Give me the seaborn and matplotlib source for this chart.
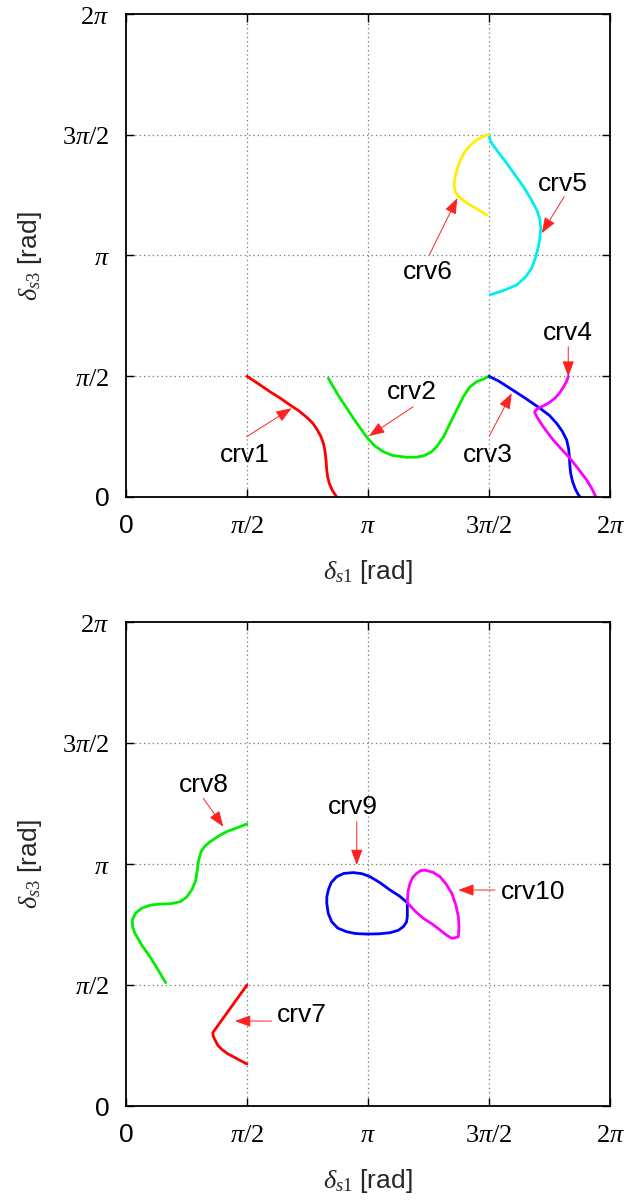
import numpy as np
import pandas as pd
import seaborn as sns
import matplotlib.pyplot as plt

# curve values in units of pi/2 (delta_s1, delta_s3)
crv1_x = [1.0, 1.09, 1.19, 1.28, 1.355, 1.43, 1.493, 1.545, 1.581, 1.611, 1.631, 1.643, 1.65,
          1.655, 1.659, 1.666, 1.68, 1.705, 1.741]
crv1_y = [1.0, 0.94, 0.872, 0.815, 0.762, 0.713, 0.66, 0.61, 0.555, 0.5, 0.445, 0.39, 0.334,
          0.28, 0.224, 0.17, 0.113, 0.055, 0.0]
crv2_x = [1.672, 1.72, 1.769, 1.825, 1.879, 1.94, 1.997, 2.06, 2.127, 2.2, 2.32, 2.4, 2.457,
          2.52, 2.568, 2.625, 2.678, 2.735, 2.788, 2.84, 2.898, 2.95, 3.0]
crv2_y = [0.983, 0.9, 0.818, 0.735, 0.652, 0.565, 0.486, 0.42, 0.375, 0.345, 0.329, 0.33, 0.34,
          0.37, 0.417, 0.5, 0.61, 0.725, 0.831, 0.91, 0.955, 0.975, 1.0]
crv3_x = [3.0, 3.08, 3.174, 3.3, 3.421, 3.5, 3.559, 3.605, 3.642, 3.658, 3.664, 3.668, 3.675,
          3.69, 3.711, 3.732, 3.752]
crv3_y = [1.0, 0.96, 0.9, 0.818, 0.735, 0.675, 0.61, 0.545, 0.472, 0.4, 0.334, 0.265, 0.196,
          0.13, 0.072, 0.03, 0.0]
crv4_x = [3.656, 3.64, 3.614, 3.582, 3.545, 3.5, 3.449, 3.41, 3.388, 3.378, 3.38, 3.41, 3.45,
          3.49, 3.531, 3.6, 3.669, 3.74, 3.807, 3.85, 3.884]
crv4_y = [1.0, 0.955, 0.909, 0.86, 0.818, 0.783, 0.754, 0.737, 0.721, 0.705, 0.693, 0.64, 0.58,
          0.525, 0.472, 0.395, 0.32, 0.23, 0.141, 0.07, 0.0]
crv5_x = [3.0, 3.005, 3.022, 3.08, 3.146, 3.215, 3.284, 3.345, 3.394, 3.418, 3.427, 3.422, 3.408,
          3.385, 3.353, 3.3, 3.229, 3.12, 3.008]
crv5_y = [3.0, 2.97, 2.93, 2.85, 2.765, 2.668, 2.571, 2.47, 2.378, 2.31, 2.239, 2.155, 2.074,
          1.985, 1.895, 1.82, 1.756, 1.71, 1.674]
crv6_x = [3.0, 2.95, 2.898, 2.848, 2.802, 2.765, 2.738, 2.72, 2.711, 2.72, 2.747, 2.79, 2.843,
          2.91, 2.981]
crv6_y = [3.0, 2.985, 2.958, 2.915, 2.861, 2.795, 2.723, 2.655, 2.585, 2.53, 2.488, 2.455, 2.419,
          2.38, 2.336]

crv7_x = [1.0, 0.832, 0.717, 0.722, 0.736, 0.76, 0.791, 0.835, 0.887, 0.94, 1.0]
crv7_y = [1.0, 0.766, 0.606, 0.575, 0.545, 0.5, 0.469, 0.435, 0.407, 0.378, 0.347]
crv8_x = [1.0, 0.92, 0.832, 0.76, 0.694, 0.65, 0.62, 0.6, 0.589, 0.575, 0.543, 0.5, 0.446, 0.37,
          0.281, 0.2, 0.13, 0.08, 0.052, 0.055, 0.074, 0.13, 0.198, 0.265, 0.328]
crv8_y = [2.331, 2.3, 2.267, 2.228, 2.184, 2.145, 2.102, 2.03, 1.95, 1.86, 1.785, 1.725, 1.688,
          1.672, 1.669, 1.66, 1.634, 1.595, 1.537, 1.48, 1.427, 1.33, 1.234, 1.125, 1.019]
crv9_x = [2.325, 2.26, 2.182, 2.1, 2.017, 1.95, 1.879, 1.8, 1.741, 1.695, 1.672, 1.66, 1.659,
          1.672, 1.7, 1.75, 1.824, 1.9, 1.989, 2.09, 2.182, 2.25, 2.292, 2.318, 2.325, 2.325, 2.325]
crv9_y = [1.68, 1.735, 1.785, 1.845, 1.895, 1.92, 1.929, 1.922, 1.895, 1.845, 1.785, 1.73, 1.675,
          1.59, 1.523, 1.47, 1.44, 1.425, 1.421, 1.423, 1.432, 1.452, 1.482, 1.52, 1.565, 1.62, 1.68]
crv10_x = [2.325, 2.33, 2.347, 2.37, 2.402, 2.435, 2.471, 2.54, 2.595, 2.645, 2.692, 2.725, 2.747,
           2.752, 2.747, 2.72, 2.692, 2.645, 2.595, 2.53, 2.457, 2.39, 2.325]
crv10_y = [1.68, 1.77, 1.84, 1.89, 1.923, 1.945, 1.95, 1.93, 1.895, 1.835, 1.758, 1.665, 1.565,
           1.48, 1.4, 1.39, 1.386, 1.415, 1.455, 1.505, 1.551, 1.61, 1.68]

colors = {'crv1': '#ff0000', 'crv2': '#00ee00', 'crv3': '#0000ff', 'crv4': '#ff00ff',
          'crv5': '#00eeee', 'crv6': '#ffee00', 'crv7': '#ff0000', 'crv8': '#00ee00',
          'crv9': '#0000ff', 'crv10': '#ff00ff'}

top_curves = {'crv1': (crv1_x, crv1_y), 'crv2': (crv2_x, crv2_y), 'crv3': (crv3_x, crv3_y),
              'crv4': (crv4_x, crv4_y), 'crv5': (crv5_x, crv5_y), 'crv6': (crv6_x, crv6_y)}
bot_curves = {'crv7': (crv7_x, crv7_y), 'crv8': (crv8_x, crv8_y),
              'crv9': (crv9_x, crv9_y), 'crv10': (crv10_x, crv10_y)}

# label text pos, arrow tail, arrow head (units of pi/2)
top_notes = [('crv1', (0.983, 0.348), (0.998, 0.50), (1.369, 0.735)),
             ('crv2', (2.361, 0.872), (2.374, 0.748), (2.008, 0.505)),
             ('crv3', (2.994, 0.348), (3.002, 0.505), (3.188, 0.859)),
             ('crv4', (3.655, 1.356), (3.655, 1.245), (3.655, 0.997)),
             ('crv5', (3.612, 2.593), (3.622, 2.488), (3.436, 2.185)),
             ('crv6', (2.498, 1.867), (2.507, 2.005), (2.738, 2.475))]
bot_notes = [('crv7', (1.452, 0.752), (1.204, 0.702), (0.901, 0.702)),
             ('crv8', (0.639, 2.653), (0.639, 2.543), (0.804, 2.308)),
             ('crv9', (1.879, 2.474), (1.907, 2.35), (1.907, 1.992)),
             ('crv10', (3.366, 1.771), (3.05, 1.785), (2.746, 1.785))]

ticks = [0, 1, 2, 3, 4]
tick_labels = ['0', r'$\pi/2$', r'$\pi$', r'$3\pi/2$', r'$2\pi$']

sns.set_theme(style='white')
plt.rcParams['font.family'] = ['Liberation Sans', 'DejaVu Sans']
plt.rcParams['mathtext.fontset'] = 'custom'
plt.rcParams['mathtext.rm'] = 'Liberation Serif'
plt.rcParams['mathtext.it'] = 'Liberation Serif:italic'

h = np.pi / 2
fig = plt.figure(figsize=(6.31, 12), dpi=100)
ax_top = fig.add_axes([126 / 631, 1 - 497 / 1200, 484 / 631, 483 / 1200])
ax_bot = fig.add_axes([126 / 631, 1 - 1106 / 1200, 484 / 631, 484 / 1200])

for ax, curves, notes in [(ax_top, top_curves, top_notes), (ax_bot, bot_curves, bot_notes)]:
    df = pd.concat([pd.DataFrame({'x': np.array(cx) * h, 'y': np.array(cy) * h, 'curve': name})
                    for name, (cx, cy) in curves.items()])
    sns.lineplot(data=df, x='x', y='y', hue='curve', palette=colors, sort=False,
                 estimator=None, legend=False, lw=2.0, ax=ax)
    for name, txt, tail, head in notes:
        ax.annotate('', xy=(head[0] * h, head[1] * h), xytext=(tail[0] * h, tail[1] * h),
                    arrowprops=dict(arrowstyle='-|>,head_length=0.8,head_width=0.3',
                                    color='#ff2020', lw=0.7, shrinkA=0, shrinkB=0))
        ax.text(txt[0] * h, txt[1] * h, name, ha='center', va='center', fontsize=19, color='black')

    ax.set_xlim(0, 2 * np.pi)
    ax.set_ylim(0, 2 * np.pi)
    ax.set_xticks([t * h for t in ticks])
    ax.set_yticks([t * h for t in ticks])
    ax.set_xticklabels(tick_labels, fontsize=19)
    ax.set_yticklabels(tick_labels, fontsize=19)
    ax.tick_params(direction='in', length=6, width=1, top=True, right=True,
                   bottom=True, left=True, pad=12, colors='black')
    for s in ax.spines.values():
        s.set_color('black')
        s.set_linewidth(1.3)
    for t in [1, 2, 3]:
        ax.axvline(t * h, color='#777777', lw=0.9, ls=(0, (1, 2.5)), zorder=0)
        ax.axhline(t * h, color='#777777', lw=0.9, ls=(0, (1, 2.5)), zorder=0)
    ax.set_xlabel('')
    ax.set_ylabel('')

for yc, xc in [(256, 572), (864, 1181)]:
    fig.text(30 / 631, 1 - yc / 1200, r'$\delta_{s3}$ [rad]', rotation=90,
             ha='center', va='center', fontsize=19)
    fig.text(368 / 631, 1 - xc / 1200, r'$\delta_{s1}$ [rad]',
             ha='center', va='center', fontsize=19)

fig.savefig('out.png', dpi=100)
